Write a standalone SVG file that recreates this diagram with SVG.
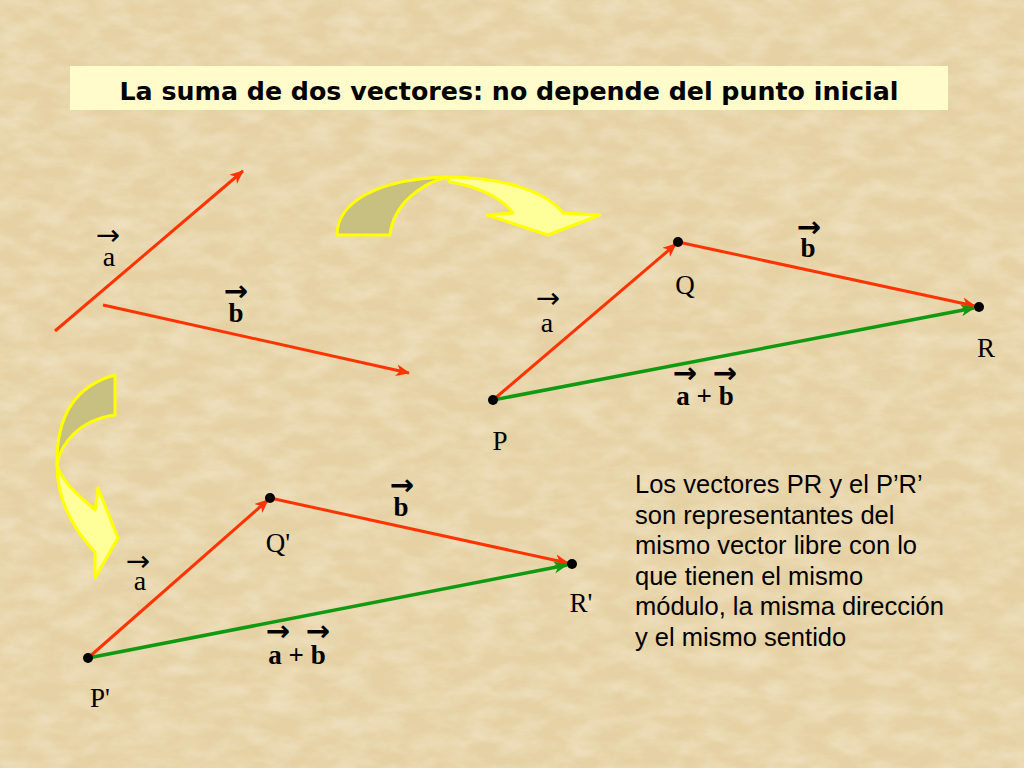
<svg xmlns="http://www.w3.org/2000/svg" width="1024" height="768" viewBox="0 0 1024 768">
<defs>
<filter id="tex" x="0" y="0" width="100%" height="100%">
<feTurbulence type="fractalNoise" baseFrequency="0.03 0.06" numOctaves="4" seed="7"/>
<feColorMatrix type="matrix" values="0 0 0 0 1  0 0 0 0 0.96  0 0 0 0 0.86  1.4 0 0 0 -0.45"/>
</filter>
<marker id="ar" markerUnits="userSpaceOnUse" markerWidth="16" markerHeight="12" refX="13" refY="6" orient="auto" viewBox="0 0 16 12">
<path d="M0,0 L14,6 L0,12 L4,6 Z" fill="#FF3300"/>
</marker>
<marker id="ag" markerUnits="userSpaceOnUse" markerWidth="16" markerHeight="12" refX="13" refY="6" orient="auto" viewBox="0 0 16 12">
<path d="M0,0 L14,6 L0,12 L4,6 Z" fill="#119911"/>
</marker>
<style>
.red{stroke:#FF3300;stroke-width:3;fill:none;marker-end:url(#ar)}
.grn{stroke:#119911;stroke-width:3.5;fill:none;marker-end:url(#ag)}
.dot{fill:#000}
.lbl{font-family:"Liberation Serif","Times New Roman",serif;fill:#000;text-anchor:middle}
.pt{font-size:27px}
.va{font-size:28px}
.vb{font-size:27px;font-weight:bold}
.arw{font-family:"DejaVu Sans",sans-serif;font-size:29px;font-weight:normal}
.arwb{font-family:"DejaVu Sans",sans-serif;font-size:29px;font-weight:bold}
.olive{fill:#C8C080;stroke:#FFFF00;stroke-width:3;stroke-linejoin:round}
.yel{fill:#FFFF99;stroke:#FFFF00;stroke-width:3;stroke-linejoin:round}
.body{font-family:"Liberation Sans",Arial,sans-serif;font-size:25.5px;fill:#000}
</style>
</defs>
<rect x="0" y="0" width="1024" height="768" fill="#E5D1A3"/>
<rect x="0" y="0" width="1024" height="768" filter="url(#tex)" opacity="0.45"/>

<g id="title">
<rect x="70" y="66" width="878" height="44" fill="#FFFBCB"/>
<text x="509" y="100" font-family="'DejaVu Sans',Verdana,sans-serif" font-weight="bold" font-size="24" text-anchor="middle" textLength="779" lengthAdjust="spacingAndGlyphs" fill="#000">La suma de dos vectores: no depende del punto inicial</text>
</g>

<g id="curved-arrow-top">
<path class="olive" d="M337,235 C337,203 376,179 447,177 C420,184 393,205 390,235 Z"/>
<path class="yel" d="M447,177 C500,177 545,190 563,213 L600,215 L548,235 L487,215 L513,213 C500,196 475,186 450,182 Z"/>
</g>

<g id="curved-arrow-left">
<path class="olive" d="M115,375 C78,385 56,412 57,465 C60,445 78,420 115,415 Z"/>
<path class="yel" d="M57,465 C57,500 74,530 95,552 L95,578 L118,538 L98,488 L95,510 C78,495 63,483 57,465 Z"/>
</g>

<g id="connectors">
<line class="red" x1="55" y1="331" x2="243" y2="171"/>
<line class="red" x1="103" y1="305" x2="409" y2="373"/>
<line class="red" x1="493" y1="400" x2="676" y2="244"/>
<line class="red" x1="678" y1="242" x2="975" y2="306"/>
<line class="grn" x1="493" y1="400" x2="974" y2="308"/>
<line class="red" x1="88" y1="658" x2="268" y2="500"/>
<line class="red" x1="270" y1="498" x2="568" y2="563"/>
<line class="grn" x1="88" y1="658" x2="567" y2="565"/>
</g>

<g id="free-vectors">
<text class="lbl va"><tspan class="arw" x="108" y="245">→</tspan><tspan x="109" y="266">a</tspan></text>
<text class="lbl vb"><tspan class="arwb" x="236" y="301">→</tspan><tspan x="236" y="322">b</tspan></text>
</g>

<g id="P"><circle class="dot" cx="493" cy="400" r="5"/><text class="lbl pt" x="500" y="450">P</text></g>
<g id="Q"><circle class="dot" cx="678" cy="242" r="5"/><text class="lbl pt" x="685" y="294">Q</text></g>
<g id="R"><circle class="dot" cx="979" cy="307" r="5"/><text class="lbl pt" x="986" y="357">R</text></g>
<g id="labels-PQR">
<text class="lbl va"><tspan class="arw" x="548" y="308">→</tspan><tspan x="547" y="332">a</tspan></text>
<text class="lbl vb"><tspan class="arwb" x="809" y="237">→</tspan><tspan x="808" y="257">b</tspan></text>
<text class="lbl vb"><tspan class="arwb" x="685" y="383">→</tspan><tspan class="arwb" x="725" y="383">→</tspan><tspan x="705" y="405">a + b</tspan></text>
</g>

<g id="P2"><circle class="dot" cx="88" cy="658" r="5"/><text class="lbl pt" x="100" y="707">P'</text></g>
<g id="Q2"><circle class="dot" cx="270" cy="498" r="5"/><text class="lbl pt" x="278" y="552">Q'</text></g>
<g id="R2"><circle class="dot" cx="572" cy="564" r="5"/><text class="lbl pt" x="581" y="612">R'</text></g>
<g id="labels-PQR2">
<text class="lbl va"><tspan class="arw" x="138" y="571">→</tspan><tspan x="140" y="590">a</tspan></text>
<text class="lbl vb"><tspan class="arwb" x="402" y="495">→</tspan><tspan x="401" y="516">b</tspan></text>
<text class="lbl vb"><tspan class="arwb" x="278" y="641">→</tspan><tspan class="arwb" x="318" y="641">→</tspan><tspan x="297" y="664">a + b</tspan></text>
</g>

<g id="note">
<text class="body" x="635" y="493">Los vectores PR y el P’R’</text>
<text class="body" x="635" y="524">son representantes del</text>
<text class="body" x="635" y="554">mismo vector libre con lo</text>
<text class="body" x="635" y="585">que tienen el mismo</text>
<text class="body" x="635" y="615">módulo, la misma dirección</text>
<text class="body" x="635" y="646">y el mismo sentido</text>
</g>
</svg>
